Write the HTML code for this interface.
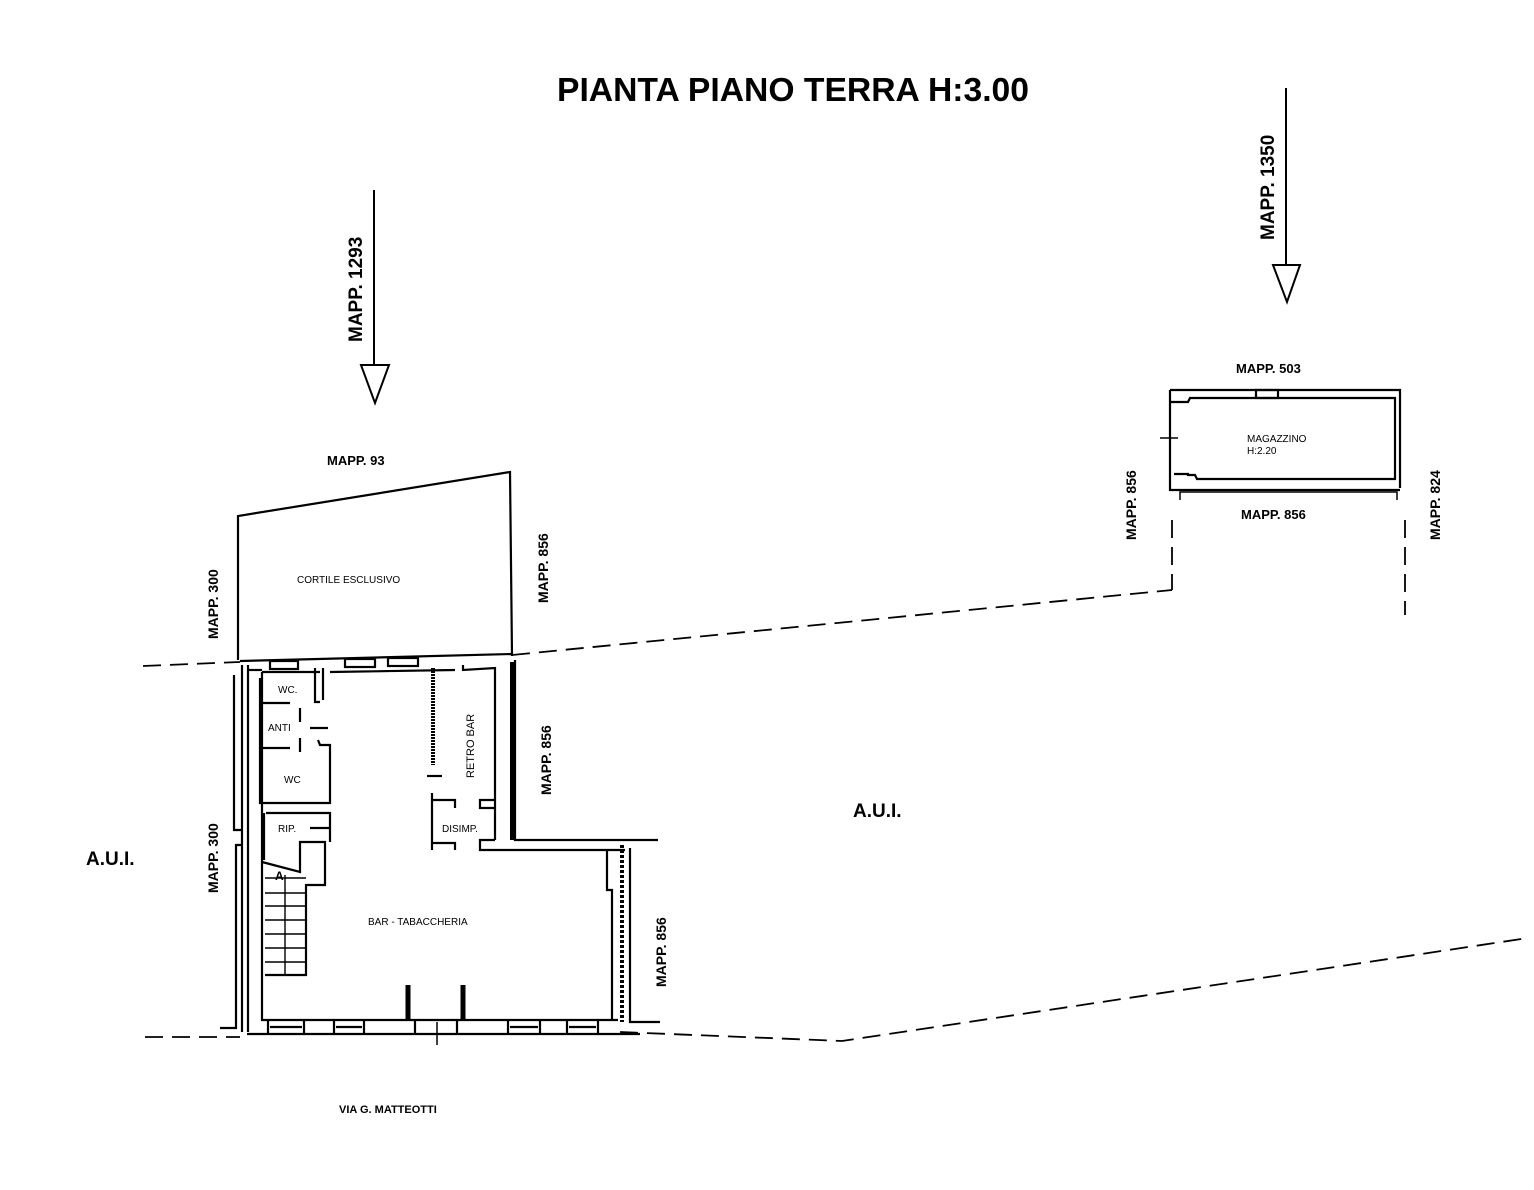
<!DOCTYPE html>
<html><head><meta charset="utf-8"><style>
html,body{margin:0;padding:0;background:#fff;width:1534px;height:1190px;overflow:hidden}
svg{display:block}
text{font-family:"Liberation Sans",Arial,sans-serif;fill:#000}
</style></head><body>
<svg width="1534" height="1190" viewBox="0 0 1534 1190" xmlns="http://www.w3.org/2000/svg">
<text x="793" y="101" text-anchor="middle" font-weight="bold" font-size="33" textLength="472" lengthAdjust="spacingAndGlyphs">PIANTA PIANO TERRA H:3.00</text>

<g stroke="#000" fill="#fff" stroke-width="2">
<line x1="374" y1="190" x2="374" y2="365"/>
<polygon points="361,365 389,365 375,403"/>
<line x1="1286" y1="88" x2="1286" y2="265"/>
<polygon points="1273,265 1300,265 1287,302"/>
</g>
<text transform="translate(362,342) rotate(-90)" font-weight="bold" font-size="19">MAPP. 1293</text>
<text transform="translate(1274,240) rotate(-90)" font-weight="bold" font-size="19">MAPP. 1350</text>

<g stroke="#000" fill="none" stroke-width="1.8" stroke-dasharray="18,9">
<line x1="143" y1="666" x2="240" y2="662"/>
<path d="M512,655 L1172,590"/>
<line x1="145" y1="1037" x2="240" y2="1037"/>
<path d="M620,1032 L842,1041 L1528,938"/>
<line x1="1172" y1="520" x2="1172" y2="590"/>
<line x1="1405" y1="520" x2="1405" y2="615"/>
</g>

<g stroke="#000" fill="none" stroke-width="2.2">
<path d="M238,660 L238,516 L510,472 L512,656"/>
<path d="M240,661 L512,654"/>
<path d="M262,672 L320,672 M323,668 L323,700 M330,672 L455,670 M463,665 L463,670 L495,668 L495,840"/>
<path d="M248,670 L262,670"/>
<rect x="270" y="661" width="28" height="8"/>
<rect x="345" y="659" width="30" height="8"/>
<rect x="388" y="658" width="30" height="8"/>
<path d="M242,665 L242,1032 M248,665 L248,1032"/>
<path d="M234,675 L234,830 L243,830 M220,1028 L236,1028 L236,845 L243,845"/>
<path d="M262,672 L262,1020 L618,1020"/>
<path d="M247,1034 L640,1034"/>
<path d="M268,1020 L268,1034 M304,1020 L304,1034 M334,1020 L334,1034 M364,1020 L364,1034 M415,1020 L415,1034 M457,1020 L457,1034 M508,1020 L508,1034 M540,1020 L540,1034 M567,1020 L567,1034 M598,1020 L598,1034"/>
<path d="M270,1027 L302,1027 M336,1027 L362,1027 M510,1027 L538,1027 M569,1027 L596,1027"/>
<path d="M408,985 L408,1020 M463,985 L463,1020" stroke-width="5"/>
<path d="M437,1022 L437,1045" stroke-width="1.5"/>
<path d="M260,678 L260,803 L330,803 L330,745 L320,745 L318,740 M260,703 L290,703 M260,748 L290,748 M300,708 L300,722 M300,738 L300,752 M310,728 L328,728 M315,668 L315,702 L320,702"/>
<path d="M266,813 L330,813 L330,842 M310,828 L330,828 M264,813 L264,860"/>
<path d="M262,862 Q285,868 300,872 L300,842 L325,842 L325,885 L306,885 L306,975 L265,975"/>
<g stroke-width="1.4">
<path d="M265,878 L306,878 M265,893 L306,893 M265,906 L306,906 M265,920 L306,920 M265,934 L306,934 M265,948 L306,948 M265,962 L306,962 M285,875 L285,975"/>
</g>
<path d="M433,668 L433,765" stroke-width="4" stroke-dasharray="2,1"/>
<path d="M427,776 L442,776"/>
<path d="M432,793 L432,850 M432,800 L455,800 L455,808 M432,843 L455,843 L455,850"/>
<path d="M495,840 L480,840 L480,850 L625,850 M495,808 L480,808 L480,800 L495,800"/>
<path d="M515,660 L515,840 L658,840"/>
<path d="M512,662 L512,840" stroke-width="4"/>
<path d="M607,850 L607,890 L612,890 L612,1020"/>
<path d="M622,845 L622,1022" stroke-width="4" stroke-dasharray="3,2"/>
<path d="M630,848 L630,1022 L660,1022"/>
<path d="M1170,390 L1400,390 L1400,488 M1170,390 L1170,490 L1400,490"/>
<path d="M1170,402 L1188,402 L1190,398 L1395,398 L1395,479 L1197,479 L1195,475 L1188,475 L1188,474 L1174,474"/>
<rect x="1256" y="390" width="22" height="8"/>
<path d="M1180,500 L1180,492 L1397,492 L1397,500" stroke-width="1.5"/>
<path d="M1160,438 L1178,438" stroke-width="1.5"/>
</g>

<g font-weight="bold">
<text x="327" y="465" font-size="13">MAPP. 93</text>
<text x="1236" y="373" font-size="13">MAPP. 503</text>
<text x="1241" y="519" font-size="13">MAPP. 856</text>
<text x="853" y="817" font-size="19">A.U.I.</text>
<text x="86" y="865" font-size="19">A.U.I.</text>
<text x="339" y="1113" font-size="11">VIA G. MATTEOTTI</text>
</g>
<g font-weight="bold" font-size="14">
<text transform="translate(218,639) rotate(-90)">MAPP. 300</text>
<text transform="translate(218,893) rotate(-90)">MAPP. 300</text>
<text transform="translate(548,603) rotate(-90)">MAPP. 856</text>
<text transform="translate(551,795) rotate(-90)">MAPP. 856</text>
<text transform="translate(666,987) rotate(-90)">MAPP. 856</text>
<text transform="translate(1136,540) rotate(-90)">MAPP. 856</text>
<text transform="translate(1440,540) rotate(-90)">MAPP. 824</text>
</g>
<g font-size="10">
<text x="297" y="583">CORTILE ESCLUSIVO</text>
<text x="278" y="693">WC.</text>
<text x="268" y="731">ANTI</text>
<text x="284" y="783">WC</text>
<text x="278" y="832">RIP.</text>
<text x="442" y="832">DISIMP.</text>
<text x="368" y="925">BAR - TABACCHERIA</text>
<text x="1247" y="442">MAGAZZINO</text>
<text x="1247" y="454">H:2.20</text>
<text transform="translate(474,778) rotate(-90)" font-size="11">RETRO BAR</text>
<text x="275" y="880" font-size="12" font-weight="bold">A</text>
</g>
</svg>
</body></html>
